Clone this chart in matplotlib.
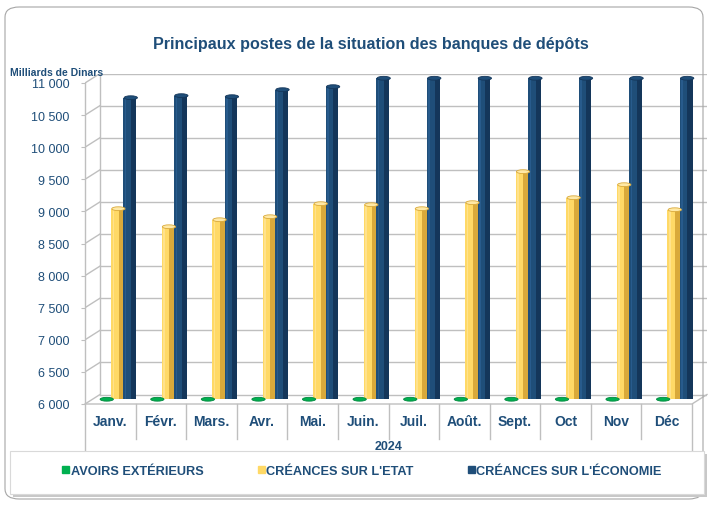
import numpy as np
import matplotlib
matplotlib.use("Agg")
import matplotlib.pyplot as plt
from matplotlib.patches import Ellipse, FancyBboxPatch, Rectangle

plt.rcParams['font.family'] = ['Liberation Sans', 'DejaVu Sans']

months = ['Janv.', 'Févr.', 'Mars.', 'Avr.', 'Mai.', 'Juin.', 'Juil.', 'Août.',
          'Sept.', 'Oct', 'Nov', 'Déc']
# avoirs exterieurs sit below the 6 000 floor -> only a flat sliver shows
avoirs = [6000, 6000, 6000, 6000, 6000, 6000, 6000, 6000, 6000, 6000, 6000, 6000]
creances_etat = [8968, 8687, 8796, 8843, 9046, 9030, 8968, 9062, 9545, 9139, 9342, 8952]
creances_eco = [10697, 10729, 10713, 10822, 10869, 11000, 11000, 11000, 11000, 11000, 11000, 11000]
series_names = ['AVOIRS EXTÉRIEURS', "CRÉANCES SUR L'ETAT", "CRÉANCES SUR L'ÉCONOMIE"]
yticks = np.arange(6000, 11001, 500)

navy = '#1F4E79'
grid = '#BFBFBF'
W, H = 709, 506

fig = plt.figure(figsize=(W / 100, H / 100), dpi=100)

# pseudo 3D geometry (pixels)
cat_px = 607 / 12
val_px = 321 / 5000
dx = 15 / cat_px          # depth offset in category units
dy = 9.5 / val_px         # depth offset in value units
ymin, ymax = 6000, 11000

left_px, bottom_px = 85, H - 405
ax = fig.add_axes([left_px / W, bottom_px / H,
                   (607 + 15) / W, (321 + 9.5) / H])
ax.set_xlim(-0.5, 11.5 + dx)
ax.set_ylim(ymin, ymax + dy)
for s in ax.spines.values():
    s.set_visible(False)
ax.set_xticks([])
ax.set_yticks(yticks)
ax.set_yticklabels([f"{v:,}".replace(",", " ") for v in yticks])
ax.tick_params(axis='y', length=3, color=grid, pad=8, labelsize=9, labelcolor=navy)

# walls, floor, gridlines
x0, x1 = -0.5, 11.5
for v in yticks:
    ax.plot([x0 + dx, x1 + dx], [v + dy, v + dy], color=grid, lw=1, zorder=1)
    ax.plot([x0, x0 + dx], [v, v + dy], color=grid, lw=1, zorder=1)
ax.plot([x0 + dx, x0 + dx], [ymin + dy, ymax + dy], color=grid, lw=1, zorder=1)
ax.plot([x0, x1, x1 + dx], [ymin, ymin, ymin + dy], color=grid, lw=1, zorder=1, clip_on=False)

# front axis line + category table below
low = ymin - 50 / val_px
ax.plot([x0, x0], [ymax, low], color=grid, lw=1, clip_on=False)
ax.plot([x1, x1], [ymin, low], color=grid, lw=1, clip_on=False)
for i in range(1, 12):
    ax.plot([i - 0.5, i - 0.5], [ymin, ymin - 35 / val_px], color=grid, lw=1, clip_on=False)
for i, m in enumerate(months):
    ax.text(i, ymin - 17 / val_px, m, ha='center', va='center', fontsize=10,
            fontweight='bold', color=navy, clip_on=False)
ax.text(5.5, ymin - 42 / val_px, '2024', ha='center', va='center', fontsize=9,
        fontweight='bold', color=navy, clip_on=False)

# bars
w = 0.25
offsets = [-0.09, 0.14, 0.385]
styles = [('#00B050', '#00873D', '#00B050'),
          ('#FFD966', '#D9A93A', '#FFE9A6'),
          ('#1F4E79', '#14365A', '#2F6499')]
series = [avoirs, creances_etat, creances_eco]
x = np.arange(12)
handles = []
for vals, off, (c, dark, light), name in zip(series, offsets, styles, series_names):
    vals = np.array(vals)
    xc = x + off
    base = ymin + dy / 2
    h = vals - ymin
    ax.bar(xc, h, width=w, bottom=base, color=c, zorder=3, label=name)
    ax.bar(xc + w * 0.3, h, width=w * 0.4, bottom=base, color=dark, zorder=3)
    ax.bar(xc - w * 0.32, h, width=w * 0.12, bottom=base, color=light, alpha=0.6, zorder=3)
    cap = light if c == '#FFD966' else c
    for xi, top in zip(xc, vals + dy / 2):
        ax.add_patch(Ellipse((xi + 0.02, top), w * 1.05, dy * 0.4, angle=0,
                             facecolor=cap, edgecolor=dark, lw=0.6, zorder=4, clip_on=False))
    handles.append(Rectangle((0, 0), 1, 1, color=c))

# title and unit
fig.text(371 / W, 1 - 45 / H, 'Principaux postes de la situation des banques de dépôts',
         ha='center', va='center', fontsize=11.6, fontweight='bold', color=navy)
fig.text(10 / W, 1 - 73 / H, 'Milliards de Dinars', ha='left', va='center',
         fontsize=7.5, fontweight='bold', color=navy)

# legend box with shadow
fig.patches.append(FancyBboxPatch((13 / W, 1 - 498 / H), 694 / W, 43 / H,
                                  boxstyle='square,pad=0', transform=fig.transFigure,
                                  facecolor='#C8C8C8', edgecolor='none', zorder=5))
fig.patches.append(FancyBboxPatch((10 / W, 1 - 495 / H), 694 / W, 43 / H,
                                  boxstyle='square,pad=0', transform=fig.transFigure,
                                  facecolor='white', edgecolor='#D9D9D9', lw=0.8, zorder=6))
leg = fig.legend(handles, series_names, loc='center', bbox_to_anchor=(362 / W, 1 - 472 / H),
                 ncol=3, frameon=False, handlelength=0.55, handleheight=0.55,
                 handletextpad=0.15, columnspacing=4.2,
                 prop={'weight': 'bold', 'size': 9.2})
leg.set_zorder(7)
for t in leg.get_texts():
    t.set_color(navy)

# outer rounded border
fig.patches.append(FancyBboxPatch((5 / W, 1 - 500 / H), 698 / W, 492 / H,
                                  boxstyle='round,pad=0,rounding_size=0.02',
                                  transform=fig.transFigure, facecolor='none',
                                  edgecolor='#A6A6A6', lw=0.8, zorder=0))

fig.savefig('out.png', dpi=100)
